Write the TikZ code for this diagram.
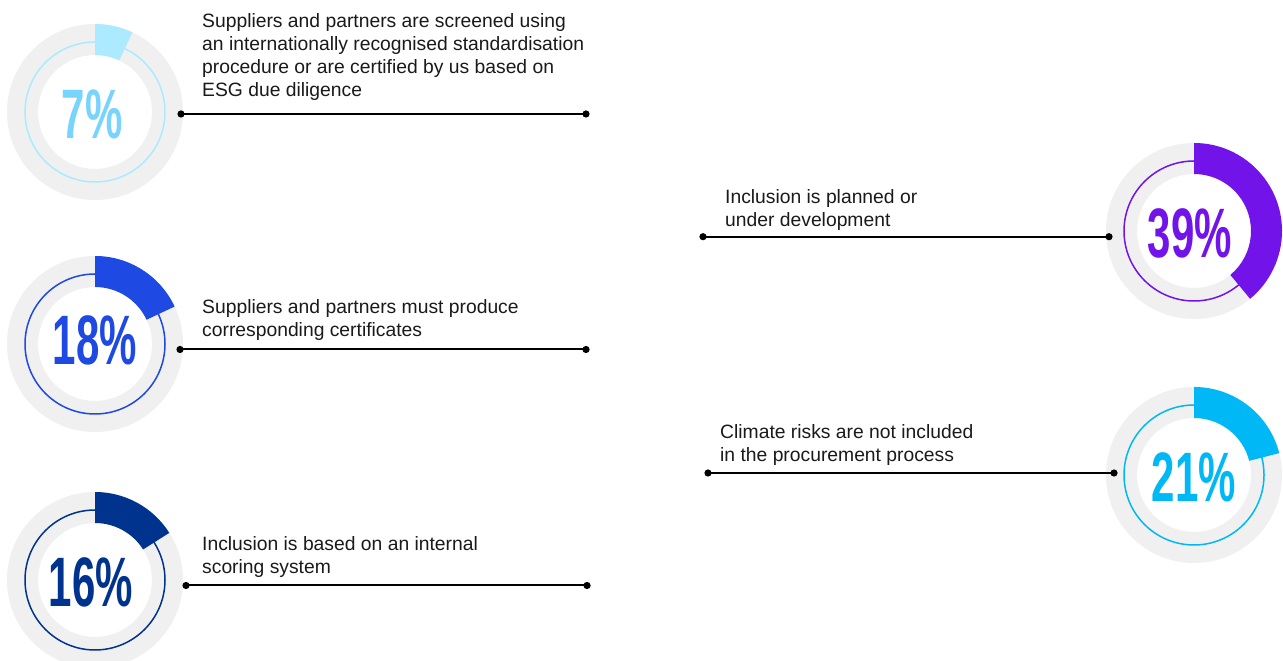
\documentclass[tikz,border=0pt]{standalone}
\usepackage{fontspec}
\setmainfont{Liberation Sans}
\newfontfamily\numfont{Liberation Sans}[BoldFont={* Bold}]
\definecolor{ringgray}{HTML}{F0F0F0}
\definecolor{cLight}{HTML}{ACEAFF}
\definecolor{cLightNum}{HTML}{78D3FD}
\definecolor{cCobalt}{HTML}{1E49E2}
\definecolor{cKBlue}{HTML}{00338D}
\definecolor{cPurple}{HTML}{7213EA}
\definecolor{cPacific}{HTML}{00B8F5}
\definecolor{txt}{HTML}{1A1A1A}
\tikzset{
  pct/.style={inner sep=0pt, text depth=0pt, font=\numfont\bfseries\fontsize{70}{70}\selectfont},
  lbl/.style={inner sep=0pt, anchor=base west, align=left, text=txt, font=\fontsize{19.3}{23}\selectfont},
  conn/.style={line width=2pt, black},
  dotc/.style={black}
}
\newcommand{\donut}[3]{% center, color, end angle
  \fill[ringgray, even odd rule] (#1) circle[radius=88pt] (#1) circle[radius=57pt];
  \draw[#2, line width=1.5pt] (#1) circle[radius=70pt];
  \fill[#2] ([shift={(90:88pt)}]#1) arc[start angle=90, end angle=#3, radius=88pt]
    -- ([shift={(#3:57pt)}]#1) arc[start angle=#3, end angle=90, radius=57pt] -- cycle;
}
\begin{document}
\begin{tikzpicture}[x=1pt,y=1pt]
\fill[white] (0,0) rectangle (1283,661);
\useasboundingbox (0,0) rectangle (1283,661);
% donut centers
\coordinate (c1) at (95,549);
\coordinate (c2) at (95,317);
\coordinate (c3) at (95,81);
\coordinate (c4) at (1194,430);
\coordinate (c5) at (1194,186);
\donut{c1}{cLight}{64.8}
\donut{c2}{cCobalt}{25.2}
\donut{c3}{cKBlue}{32.4}
\donut{c4}{cPurple}{-50.4}
\donut{c5}{cPacific}{14.4}
% numbers
\node[pct, text=cLightNum] (n1) at (92,547) {\scalebox{0.6}[1]{7\%}};
\node[pct, text=cCobalt] (n2) at (95,320.5) {\scalebox{0.6}[1]{18\%}};
\node[pct, text=cKBlue] (n3) at (91,79) {\scalebox{0.6}[1]{16\%}};
\node[pct, text=cPurple] (n4) at (1190,428) {\scalebox{0.6}[1]{39\%}};
\node[pct, text=cPacific] (n5) at (1194,183.5) {\scalebox{0.6}[1]{21\%}};
% labels (anchor = baseline of last line)
\node[lbl] (t1) at (202,564.5) {Suppliers and partners are screened using\\an internationally recognised standardisation\\procedure or are certified by us based on\\ESG due diligence};
\node[lbl] (t2) at (202,324.3) {Suppliers and partners must produce\\corresponding certificates};
\node[lbl] (t3) at (202,87.7) {Inclusion is based on an internal\\scoring system};
\node[lbl] (t4) at (725,434.3) {Inclusion is planned or\\under development};
\node[lbl] (t5) at (720,199.3) {Climate risks are not included\\in the procurement process};
% connector end points
\coordinate (a1) at (181,547); \coordinate (b1) at (586,547);
\coordinate (a2) at (180,311.5); \coordinate (b2) at (586,311.5);
\coordinate (a3) at (186,75.5); \coordinate (b3) at (587,75.5);
\coordinate (a4) at (703,424.3); \coordinate (b4) at (1109,424.3);
\coordinate (a5) at (708,188); \coordinate (b5) at (1114,188);
\foreach \i in {1,...,5}{
  \draw[conn] (a\i) -- (b\i);
  \fill[dotc] (a\i) circle[radius=3.6pt];
  \fill[dotc] (b\i) circle[radius=3.6pt];
}
\end{tikzpicture}
\end{document}
